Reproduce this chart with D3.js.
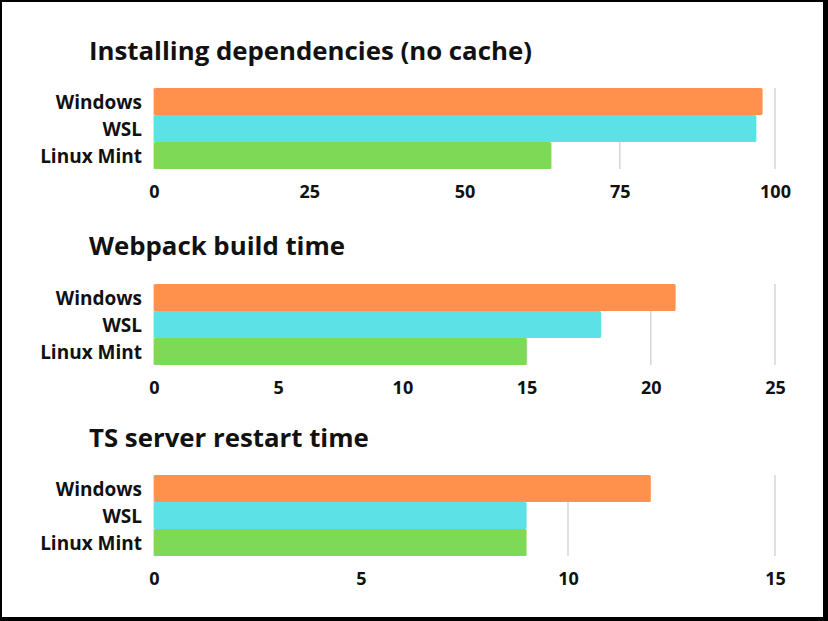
<!DOCTYPE html>
<html><head><meta charset="utf-8">
<script src="https://cdn.jsdelivr.net/npm/d3@7"></script>
<style>html,body{margin:0;padding:0;background:#000;}svg{display:block;}</style>
</head><body>
<svg id="c" width="828" height="621"></svg>
<script>
const categories = ["Windows", "WSL", "Linux Mint"];
const colors = ["#FF914D", "#5CE1E6", "#7ED957"];
const titles = ["Installing dependencies (no cache)", "Webpack build time", "TS server restart time"];
const installValues = [98, 97, 64];
const webpackValues = [21, 18, 15];
const tsValues = [12, 9, 9];
const installTicks = [0, 25, 50, 75, 100];
const webpackTicks = [0, 5, 10, 15, 20, 25];
const tsTicks = [0, 5, 10, 15];

const panels = [
  {title: titles[0], values: installValues, ticks: installTicks, titleY: 60, top: 88},
  {title: titles[1], values: webpackValues, ticks: webpackTicks, titleY: 255, top: 284},
  {title: titles[2], values: tsValues, ticks: tsTicks, titleY: 447, top: 475}
];

const svg = d3.select("#c");
svg.append("rect").attr("x", 2).attr("y", 2).attr("width", 821).attr("height", 615).attr("fill", "#fff");
const font = "'Open Sans', sans-serif";

panels.forEach(p => {
  const g = svg.append("g");
  const x = d3.scaleLinear().domain([0, d3.max(p.ticks)]).range([154, 775]);
  const y = d3.scaleBand().domain(categories).range([p.top, p.top + 81]).padding(0);

  g.append("text").attr("x", 89).attr("y", p.titleY)
    .attr("font-family", font).attr("font-weight", 700).attr("font-size", 25.8)
    .attr("fill", "#111").text(p.title);

  g.selectAll("line.grid").data(p.ticks).enter().append("line")
    .attr("x1", d => x(d)).attr("x2", d => x(d))
    .attr("y1", p.top).attr("y2", p.top + 81)
    .attr("stroke", "#d6d6d6").attr("stroke-width", 1.5);

  g.selectAll("rect.bar").data(p.values).enter().append("rect")
    .attr("x", x(0)).attr("y", (d, i) => y(categories[i]))
    .attr("width", d => x(d) - x(0)).attr("height", y.bandwidth())
    .attr("rx", 1.5).attr("fill", (d, i) => colors[i]);

  const yAxis = d3.axisLeft(y).tickSize(0).tickPadding(12);
  const ya = g.append("g").attr("transform", `translate(${x(0)},0)`).call(yAxis);
  ya.select(".domain").remove();
  ya.selectAll("text").attr("font-family", font).attr("font-weight", 700)
    .attr("font-size", 19).attr("dy", "0.4em").attr("fill", "#111");

  const xAxis = d3.axisBottom(x).tickValues(p.ticks).tickSize(0).tickPadding(16);
  const xa = g.append("g").attr("transform", `translate(0,${p.top + 81})`).call(xAxis);
  xa.select(".domain").remove();
  xa.selectAll("text").attr("font-family", font).attr("font-weight", 700)
    .attr("font-size", 18).attr("fill", "#111");
});
</script>
</body></html>
